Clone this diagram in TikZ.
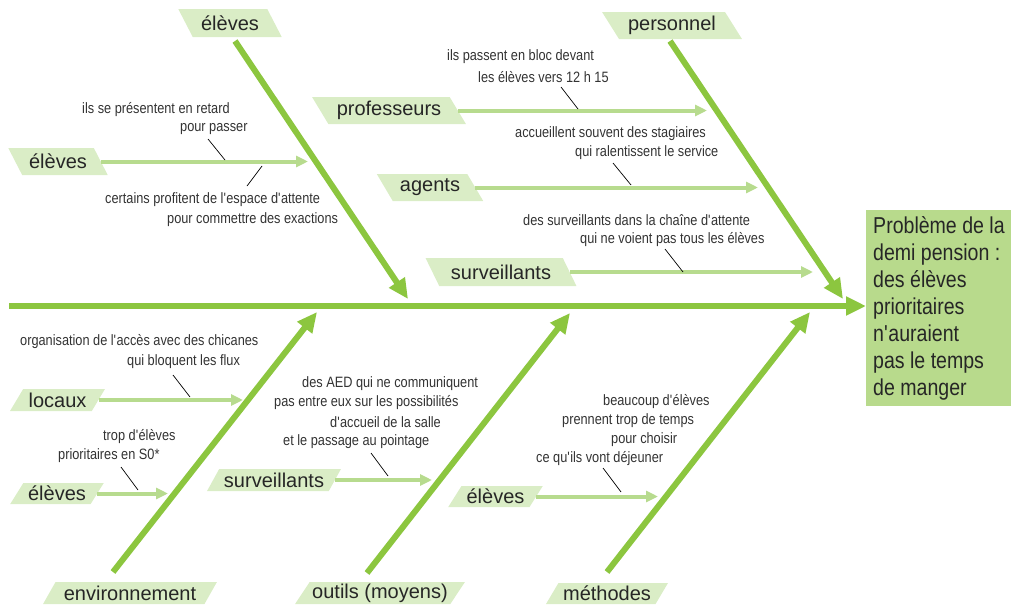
\documentclass[tikz,border=0pt]{standalone}
\usepackage{fontspec}
\setmainfont[FakeStretch=0.85]{Liberation Sans}
\newfontfamily\labfont{Liberation Sans}
\usetikzlibrary{arrows.meta,shapes.geometric,calc}
\definecolor{bone}{HTML}{8CC63F}
\definecolor{subg}{HTML}{B7DB8E}
\definecolor{lab}{HTML}{DAEDC6}
\definecolor{boxg}{HTML}{B8DA8C}
\definecolor{txt}{HTML}{333333}
\newcommand{\aq}{\textquotesingle}
\begin{document}
\begin{tikzpicture}[x=1pt,y=-1pt,
 note/.style={anchor=west,inner sep=0pt,text=txt,font=\fontsize{15}{18}\selectfont},
 toplab/.style={trapezium,trapezium stretches=true,trapezium left angle=127,trapezium right angle=53,fill=lab,inner sep=0pt,font=\labfont\fontsize{20}{24}\selectfont,text=black!85},
 botlab/.style={toplab,trapezium left angle=53,trapezium right angle=127},
 mainbone/.style={bone,line width=6pt,-{Triangle[length=20pt,width=18pt]}},
 subbone/.style={subg,line width=4pt,-{Triangle[length=12pt,width=11pt]}},
 ptr/.style={black,line width=0.7pt}]
\useasboundingbox (0,0) rectangle (1011,605);

% effect box
\node[fill=boxg,anchor=north west,minimum width=145pt,minimum height=196pt,inner xsep=7pt,inner ysep=0pt,align=left,font=\fontsize{23}{27}\selectfont,text=black!85] (effet) at (866,210)
 {Problème de la\\demi pension :\\des élèves\\prioritaires\\n\aq auraient\\pas le temps\\de manger};

% spine
\coordinate (sp0) at (9,306);
\draw[mainbone] (sp0) -- (sp0 -| effet.west);

% main category labels
\node[toplab,minimum width=104pt,minimum height=28pt] (celeves) at (230,23) {élèves};
\node[toplab,minimum width=140pt,minimum height=27pt] (cpers) at (672,25.5) {personnel};
\node[botlab,minimum width=174pt,minimum height=22pt] (cenv) at (130,593) {environnement};
\node[botlab,minimum width=170pt,minimum height=22pt] (cout) at (380,593) {outils (moyens)};
\node[botlab,minimum width=122pt,minimum height=21pt] (cmeth) at (607,593.5) {méthodes};

% main bones
\coordinate (b1s) at (235,41);  \coordinate (b1e) at (408,299);
\coordinate (b2s) at (670,41);  \coordinate (b2e) at (843,299);
\coordinate (b3s) at (113,572); \coordinate (b3e) at (317,312);
\coordinate (b4s) at (367,573); \coordinate (b4e) at (570,313);
\coordinate (b5s) at (607,572); \coordinate (b5e) at (810,312);
\draw[mainbone] (b1s) -- (b1e);
\draw[mainbone] (b2s) -- (b2e);
\draw[mainbone] (b3s) -- (b3e);
\draw[mainbone] (b4s) -- (b4e);
\draw[mainbone] (b5s) -- (b5e);

% sub-cause labels
\node[toplab,minimum width=100pt,minimum height=27pt] (selv1) at (58,161.5) {élèves};
\node[toplab,minimum width=154pt,minimum height=27pt] (sprof) at (389,110.5) {professeurs};
\node[toplab,minimum width=107pt,minimum height=27pt] (sagen) at (430,187.5) {agents};
\node[toplab,minimum width=151pt,minimum height=28pt] (ssurv1) at (501,272) {surveillants};
\node[botlab,minimum width=95pt,minimum height=22pt] (sloc) at (57.5,400) {locaux};
\node[botlab,minimum width=94pt,minimum height=21pt] (selv2) at (57,493.5) {élèves};
\node[botlab,minimum width=134pt,minimum height=22pt] (ssurv2) at (274,480) {surveillants};
\node[botlab,minimum width=95pt,minimum height=21pt] (selv3) at (495.5,496.5) {élèves};

% sub arrows
\coordinate (e1) at (308,162);
\coordinate (e2) at (707,111);
\coordinate (e3) at (758,188);
\coordinate (e4) at (813,273);
\coordinate (e5) at (243,397);
\coordinate (e6) at (168,491);
\coordinate (e7) at (432,478);
\coordinate (e8) at (658,493);
\draw[subbone] (selv1.east) -- (selv1.east -| e1);
\draw[subbone] (sprof.east) -- (sprof.east -| e2);
\draw[subbone] (sagen.east) -- (sagen.east -| e3);
\draw[subbone] (ssurv1.east) -- (ssurv1.east -| e4);
\draw[subbone] (sloc.east) -- (sloc.east -| e5);
\draw[subbone] (selv2.east) -- (selv2.east -| e6);
\draw[subbone] (ssurv2.east) -- (ssurv2.east -| e7);
\draw[subbone] (selv3.east) -- (selv3.east -| e8);

% notes
\node[note] (a1) at (82,110) {ils se présentent en retard};
\node[note] (a2) at (180,129) {pour passer};
\node[note] (b1) at (105,200) {certains profitent de l\aq espace d\aq attente};
\node[note] (b2) at (167,220) {pour commettre des exactions};
\node[note] (c1) at (447,57) {ils passent en bloc devant};
\node[note] (c2) at (478,77) {les élèves vers 12 h 15};
\node[note] (d1) at (515,134) {accueillent souvent des stagiaires};
\node[note] (d2) at (575,153) {qui ralentissent le service};
\node[note] (n1) at (523,220) {des surveillants dans la chaîne d\aq attente};
\node[note] (n2) at (580,240) {qui ne voient pas tous les élèves};
\node[note] (f1) at (20,342) {organisation de l\aq accès avec des chicanes};
\node[note] (f2) at (127,362) {qui bloquent les flux};
\node[note] (g1) at (103,437) {trop d\aq élèves};
\node[note] (g2) at (58,456) {prioritaires en S0*};
\node[note] (h1) at (302,384) {des AED qui ne communiquent};
\node[note] (h2) at (274,403) {pas entre eux sur les possibilités};
\node[note] (h3) at (330,422) {d\aq accueil de la salle};
\node[note] (h4) at (283,442) {et le passage au pointage};
\node[note] (i1) at (603,402) {beaucoup d\aq élèves};
\node[note] (i2) at (562,421) {prennent trop de temps};
\node[note] (i3) at (611,440) {pour choisir};
\node[note] (i4) at (536,459) {ce qu\aq ils vont déjeuner};

% pointers
\coordinate (p1a) at (208,139); \coordinate (p1b) at (225,160);
\coordinate (p2a) at (262,166); \coordinate (p2b) at (247,186);
\coordinate (p3a) at (561,87);  \coordinate (p3b) at (578,109);
\coordinate (p4a) at (613,163); \coordinate (p4b) at (631,185);
\coordinate (p5a) at (665,249); \coordinate (p5b) at (683,272);
\coordinate (p6a) at (173,375); \coordinate (p6b) at (190,397);
\coordinate (p7a) at (121,467); \coordinate (p7b) at (138,490);
\coordinate (p8a) at (371,453); \coordinate (p8b) at (388,476);
\coordinate (p9a) at (603,468); \coordinate (p9b) at (621,492);
\foreach \i in {1,...,9} {\draw[ptr] (p\i a) -- (p\i b);}
\end{tikzpicture}
\end{document}
